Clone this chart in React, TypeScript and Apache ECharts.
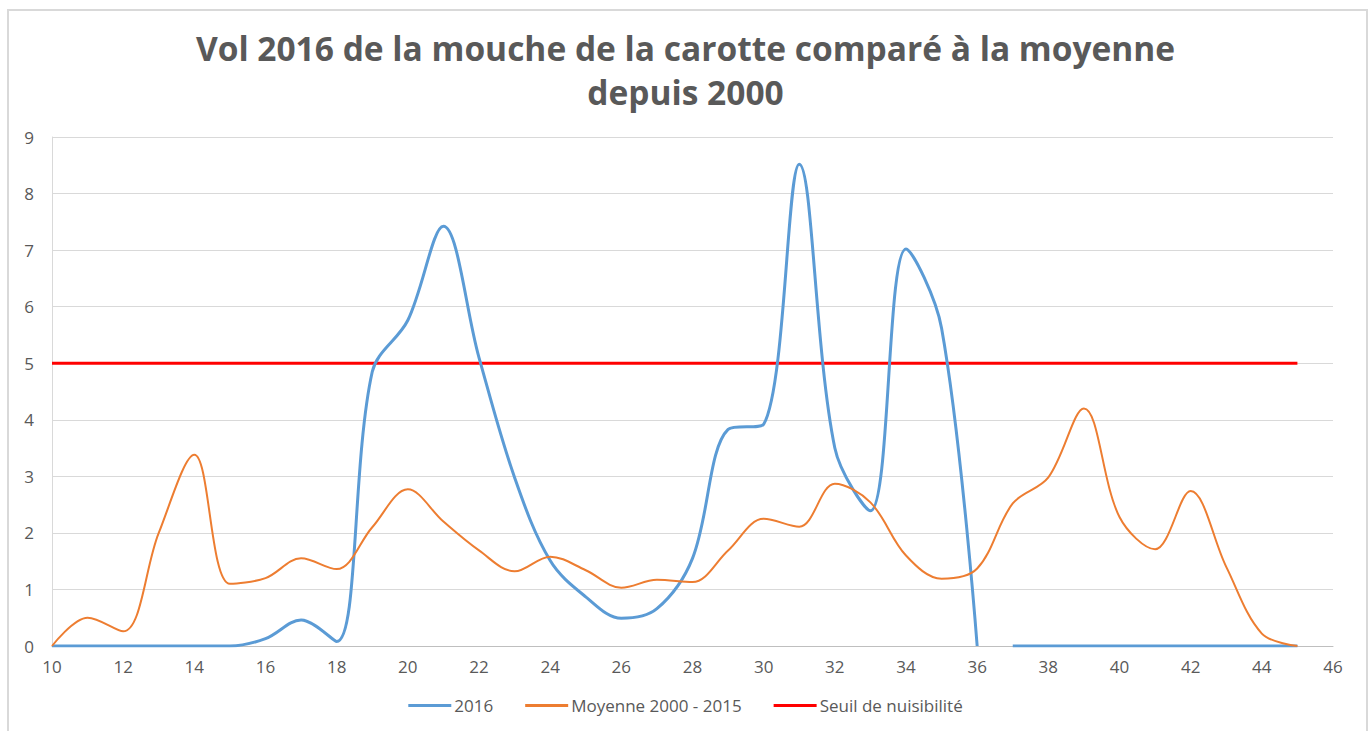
import React, { useEffect, useRef } from "react";
import * as echarts from "echarts";

const weeks = [10, 11, 12, 13, 14, 15, 16, 17, 18, 19, 20, 21, 22, 23, 24, 25, 26, 27, 28, 29, 30, 31, 32, 33, 34, 35, 36, 37, 38, 39, 40, 41, 42, 43, 44, 45];
const vol2016 = [0, 0, 0, 0, 0, 0, 0.13, 0.46, 0.08, 4.85, 5.76, 7.42, 5.1, 2.98, 1.51, 0.87, 0.49, 0.66, 1.55, 3.83, 3.92, 8.52, 3.5, 2.39, 7.02, 5.62, 0, 0, 0, 0, 0, 0, 0, 0, 0, 0];
const moyenne = [0, 0.5, 0.26, 2.0, 3.38, 1.1, 1.2, 1.55, 1.36, 2.1, 2.77, 2.2, 1.69, 1.32, 1.58, 1.34, 1.03, 1.17, 1.13, 1.69, 2.25, 2.11, 2.87, 2.54, 1.6, 1.19, 1.37, 2.52, 2.98, 4.2, 2.28, 1.71, 2.74, 1.4, 0.22, 0];
const seuil = 5;
const lastWeekBeforeGap = 36; // 2016 line breaks between week 36 and 37
const xTicks = { min: 10, max: 46, interval: 2 };
const yTicks = { min: 0, max: 9, interval: 1 };
const titleText = "Vol 2016 de la mouche de la carotte comparé à la moyenne\ndepuis 2000";
const names = ["2016", "Moyenne 2000 - 2015", "Seuil de nuisibilité"];

export default function App() {
  const ref = useRef<HTMLDivElement>(null);
  useEffect(() => {
    if (!ref.current) return;
    const chart = echarts.init(ref.current, null, { renderer: "svg" });
    const pairs2016 = weeks.map((w, i) => [w, vol2016[i]]);
    const segA = pairs2016.filter((p) => p[0] <= lastWeekBeforeGap);
    const segB = pairs2016.filter((p) => p[0] > lastWeekBeforeGap);
    const font = "'Open Sans', sans-serif";
    const textColor = "#595959";
    chart.setOption({
      animation: false,
      title: {
        text: titleText,
        left: "center",
        top: 21,
        textStyle: {
          fontFamily: font,
          fontWeight: "bold",
          fontSize: 33.5,
          color: textColor,
          lineHeight: 44,
        },
      },
      graphic: [
        {
          type: "rect",
          shape: { x: 8, y: 10, width: 1359, height: 740 },
          style: { fill: "none", stroke: "#d9d9d9", lineWidth: 2 },
          silent: true,
        },
      ],
      grid: { left: 52, right: 38, top: 137, bottom: 85 },
      legend: {
        bottom: 12,
        left: "center",
        icon: "rect",
        itemWidth: 43,
        itemHeight: 3,
        itemGap: 32,
        data: names,
        textStyle: { fontFamily: font, fontSize: 17, color: textColor, padding: [0, 0, 0, -2] },
      },
      xAxis: {
        type: "value",
        min: xTicks.min,
        max: xTicks.max,
        interval: xTicks.interval,
        axisLine: { show: true, lineStyle: { color: "#bfbfbf", width: 1 } },
        axisTick: { show: false },
        splitLine: { show: false },
        axisLabel: { fontFamily: font, fontSize: 17, color: textColor, margin: 12 },
      },
      yAxis: {
        type: "value",
        min: yTicks.min,
        max: yTicks.max,
        interval: yTicks.interval,
        axisLine: { show: true, lineStyle: { color: "#d9d9d9", width: 1 } },
        axisTick: { show: false },
        splitLine: { show: true, lineStyle: { color: "#d9d9d9", width: 1 } },
        axisLabel: { fontFamily: font, fontSize: 17, color: textColor, margin: 18 },
      },
      series: [
        {
          name: names[0],
          type: "line",
          data: segA,
          smooth: 0.35,
          showSymbol: false,
          lineStyle: { color: "#5B9BD5", width: 3 },
          itemStyle: { color: "#5B9BD5" },
          z: 3,
        },
        {
          name: names[0],
          type: "line",
          data: segB,
          smooth: 0.35,
          showSymbol: false,
          lineStyle: { color: "#5B9BD5", width: 3 },
          itemStyle: { color: "#5B9BD5" },
          z: 3,
        },
        {
          name: names[1],
          type: "line",
          data: weeks.map((w, i) => [w, moyenne[i]]),
          smooth: 0.35,
          showSymbol: false,
          lineStyle: { color: "#ED7D31", width: 2 },
          itemStyle: { color: "#ED7D31" },
          z: 4,
        },
        {
          name: names[2],
          type: "line",
          data: weeks.map((w) => [w, seuil]),
          showSymbol: false,
          lineStyle: { color: "#FF0000", width: 3 },
          itemStyle: { color: "#FF0000" },
          z: 2,
        },
      ],
    });
    return () => chart.dispose();
  }, []);
  return (
    <div
      ref={ref}
      style={{ position: "fixed", left: 0, top: 0, width: 1371, height: 731, background: "#fff" }}
    />
  );
}
